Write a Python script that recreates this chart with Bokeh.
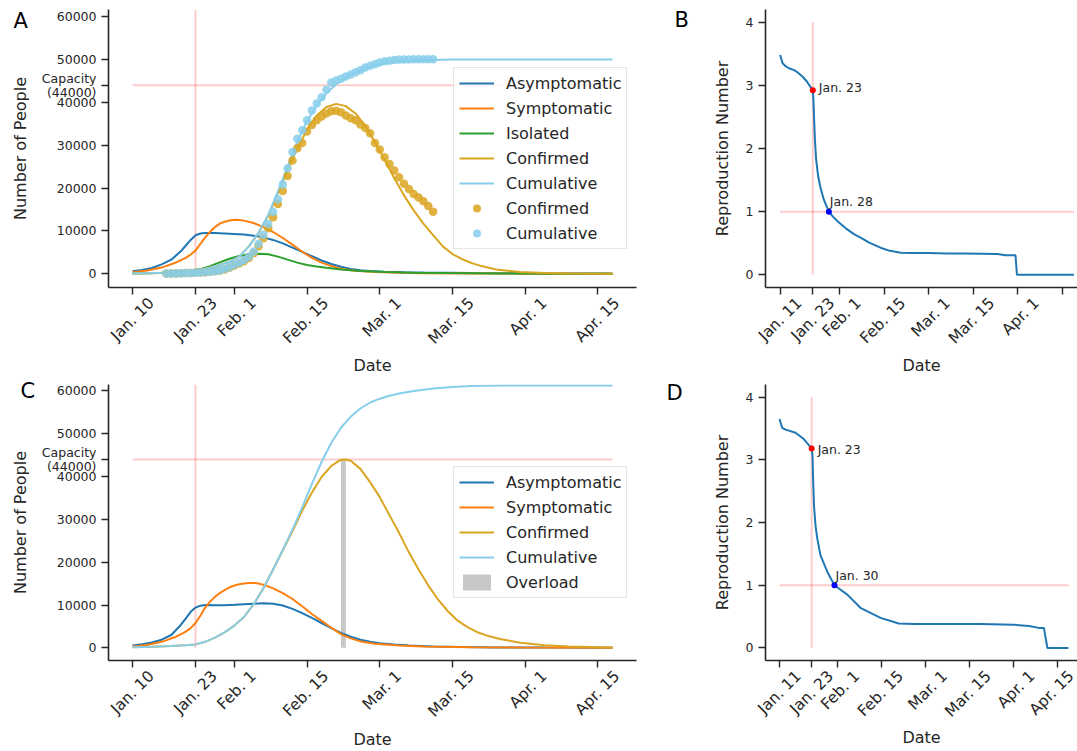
import math
from bokeh.plotting import figure
from bokeh.models import (FixedTicker, Legend, LegendItem, Label, LinearAxis, Range1d)
from bokeh.layouts import column, row
from bokeh.embed import file_html
from bokeh.resources import INLINE

# ------------------------------------------------------------------ data
# panels A and C: day index, 0 = Jan. 10
a_xticks = [0, 13, 21, 36, 51, 66, 81, 96]
a_xlabels = ["Jan. 10", "Jan. 23", "Feb. 1", "Feb. 15", "Mar. 1", "Mar. 15", "Apr. 1", "Apr. 15"]
# panels B and D: day index, 0 = Jan. 11
r_xticks = [0, 11, 20, 35, 50, 65, 80, 95]
r_xlabels = ["Jan. 11", "Jan. 23", "Feb. 1", "Feb. 15", "Mar. 1", "Mar. 15", "Apr. 1", "Apr. 15"]
people_yticks = [0, 10000, 20000, 30000, 40000, 44000, 50000, 60000]
r_yticks = [0, 1, 2, 3, 4]
capacity = 44000
lockdown_a = 13      # Jan. 23 (panels A, C)
lockdown_r = 11      # Jan. 23 (panels B, D)
model_end = 99

# ---- panel A (model fit)
a_asym_day = [0, 2, 4, 6, 8, 10, 11, 12, 13, 14, 15, 17, 19, 21, 23, 25, 27, 29, 31, 33, 35, 37,
              39, 41, 43, 45, 47, 49, 52, 56, 60, 65, 70, 80, 90, 99]
a_asym = [620, 900, 1350, 2200, 3300, 5300, 6600, 7900, 9000, 9400, 9520, 9500, 9400, 9280, 9150,
          8900, 8500, 7900, 7100, 6100, 5100, 4100, 3100, 2300, 1650, 1150, 850, 650, 480, 370,
          300, 230, 180, 110, 70, 50]
a_symp_day = [0, 3, 6, 9, 11, 12, 13, 14, 15, 16, 17, 18, 19, 20, 21, 22, 23, 25, 27, 29, 31, 33,
              35, 37, 39, 41, 43, 46, 50, 55, 60, 70, 80, 99]
a_symp = [380, 750, 1450, 2650, 3700, 4500, 5400, 7000, 8500, 9800, 10900, 11700, 12150, 12450,
          12580, 12550, 12400, 11850, 10900, 9750, 8350, 6800, 5150, 3700, 2600, 1800, 1200, 700,
          420, 250, 150, 70, 40, 20]
a_isol_day = [0, 4, 8, 10, 12, 14, 16, 18, 20, 22, 24, 26, 28, 30, 32, 34, 36, 38, 40, 43, 47, 52,
              58, 65, 75, 85, 99]
a_isol = [50, 120, 300, 450, 700, 1100, 1800, 2650, 3500, 4150, 4550, 4700, 4550, 4000, 3300,
          2600, 2050, 1700, 1400, 1000, 650, 420, 270, 160, 80, 40, 20]
a_conf_day = [0, 3, 6, 9, 12, 14, 16, 18, 20, 22, 24, 26, 28, 30, 32, 34, 36, 38, 40, 42, 44, 46,
              48, 50, 52, 54, 56, 58, 60, 62, 64, 66, 68, 70, 72, 75, 80, 85, 90, 99]
a_conf = [100, 150, 250, 400, 650, 900, 1500, 2050, 2800, 4000, 6400, 9500, 13600, 18800, 24200,
          29300, 33600, 36900, 38900, 39630, 39100, 37400, 34500, 30700, 26600, 22300, 18300,
          14800, 11700, 9000, 6400, 4600, 3400, 2500, 1800, 1000, 400, 160, 70, 20]
a_cum_day = [0, 3, 6, 9, 12, 14, 16, 18, 20, 22, 24, 26, 28, 30, 32, 34, 36, 38, 40, 42, 44, 46,
             48, 50, 52, 55, 58, 62, 66, 72, 80, 99]
a_cum = [100, 150, 250, 400, 650, 900, 1500, 2050, 2800, 4000, 6400, 9600, 13800, 19200, 25000,
         30800, 35600, 39300, 42100, 44200, 45800, 47000, 47900, 48600, 49100, 49500, 49750,
         49880, 49950, 49990, 50000, 50000]
# observed data (one point per day, Jan. 17 .. Mar. 12)
a_obs_day = list(range(7, 63))
a_obs_conf = [55, 75, 95, 120, 160, 200, 250, 300, 380, 470, 580, 750, 1000, 1400, 1950, 2400,
              2950, 3700, 4800, 6400, 8300, 10600, 13200, 16300, 19300, 22800, 26400, 29300,
              30500, 33200, 34700, 35800, 36700, 37400, 37900, 38000, 37700, 36900, 36300, 35800,
              34800, 34000, 32800, 30500, 29000, 27200, 25600, 24100, 22500, 21000, 19800, 18600,
              17800, 16900, 15800, 14500]
a_obs_cum = [60, 80, 100, 130, 170, 210, 260, 320, 400, 500, 620, 800, 1100, 1500, 2100, 2600,
             3200, 4000, 5200, 7000, 9100, 11600, 14400, 17400, 20800, 24600, 28400, 31500, 33500,
             35800, 38100, 39700, 41200, 42900, 44600, 45100, 45500, 46000, 46500, 47000, 47500,
             48100, 48500, 48900, 49300, 49550, 49700, 49850, 49950, 49980, 50000, 50010, 50020,
             50030, 50040, 50050]

# ---- panel C (scenario)
c_asym_day = [0, 2, 4, 6, 8, 10, 11, 12, 13, 14, 15, 17, 19, 21, 23, 25, 27, 29, 31, 33, 35, 37,
              39, 41, 43, 45, 47, 49, 51, 54, 57, 62, 68, 75, 85, 99]
c_asym = [550, 850, 1250, 1900, 3000, 5400, 6900, 8400, 9400, 9850, 10000, 9950, 9950, 10050,
          10200, 10300, 10400, 10300, 9900, 9100, 8100, 7000, 5800, 4600, 3500, 2600, 1900, 1400,
          1050, 750, 550, 330, 180, 100, 50, 20]
c_symp_day = [0, 3, 6, 9, 11, 12, 13, 14, 15, 16, 17, 18, 19, 20, 21, 22, 23, 24, 25, 26, 27, 29,
              31, 33, 35, 37, 39, 41, 43, 45, 47, 50, 55, 60, 70, 80, 99]
c_symp = [300, 650, 1400, 2600, 3800, 4600, 5800, 7500, 9400, 10800, 11900, 12800, 13500, 14100,
          14550, 14850, 15050, 15130, 15130, 15000, 14750, 13900, 12800, 11400, 9700, 7900, 6300,
          4700, 3200, 2200, 1500, 950, 550, 320, 120, 50, 20]
c_conf_day = [0, 4, 8, 11, 13, 15, 17, 19, 21, 23, 25, 27, 29, 31, 33, 35, 37, 39, 41, 43, 44, 45,
              47, 49, 51, 53, 55, 57, 59, 61, 63, 65, 67, 69, 71, 73, 76, 80, 85, 90, 99]
c_conf = [150, 250, 400, 600, 800, 1400, 2400, 3600, 5200, 7200, 10200, 13900, 18300, 22800,
          27300, 32000, 36300, 39900, 42500, 43950, 44000, 43700, 41800, 38700, 35200, 31000,
          26800, 22300, 18300, 14600, 11300, 8600, 6400, 4900, 3700, 2900, 2000, 1200, 600, 300,
          100]
c_cum_day = [0, 4, 8, 11, 13, 15, 17, 19, 21, 23, 25, 27, 29, 31, 33, 35, 37, 39, 41, 43, 45, 47,
             49, 51, 53, 55, 58, 62, 66, 70, 76, 85, 99]
c_cum = [150, 250, 400, 600, 800, 1400, 2400, 3600, 5200, 7200, 10200, 13900, 18300, 22900, 27600,
         32800, 38300, 43400, 47900, 51400, 54000, 55900, 57300, 58200, 58900, 59400, 60000,
         60600, 60950, 61150, 61270, 61300, 61300]
c_overload_start = 43
c_overload_end = 44

# ---- panels B and D: reproduction number
b_day = [0, 0.8, 1.9, 3, 4.7, 6, 7.5, 9, 9.7, 11, 11.2, 11.4, 11.7, 12.1, 12.8, 13.6, 14.7, 16.4,
         18, 19.8, 22, 25, 27.1, 30, 33.8, 37, 40.6, 45, 50, 56.3, 62, 68, 73.2, 76, 78.8, 79.3,
         79.8, 99]
b_r = [3.48, 3.35, 3.30, 3.27, 3.24, 3.20, 3.14, 3.06, 3.01, 2.92, 2.77, 2.51, 2.14, 1.83, 1.56,
       1.38, 1.19, 1.00, 0.91, 0.83, 0.74, 0.64, 0.59, 0.51, 0.43, 0.38, 0.35, 0.345, 0.345,
       0.34, 0.34, 0.335, 0.33, 0.31, 0.31, 0.31, 0.0, 0.0]
b_marks_day = [11, 16.4]
b_marks_r = [2.92, 1.0]
b_marks_text = ["Jan. 23", "Jan. 28"]

d_day = [0, 0.9, 2.1, 5.5, 8.3, 11, 11.3, 11.5, 11.8, 12.3, 12.9, 14, 16.3, 18.8, 23.2, 27.7,
         34.6, 40.8, 46, 57.4, 68.8, 80.2, 85.4, 88.8, 90.5, 91.7, 98.9]
d_r = [3.65, 3.51, 3.48, 3.43, 3.33, 3.18, 3.06, 2.69, 2.27, 1.96, 1.75, 1.48, 1.22, 1.0, 0.85,
       0.64, 0.48, 0.39, 0.38, 0.38, 0.38, 0.37, 0.35, 0.32, 0.32, 0.0, 0.0]
d_marks_day = [11, 18.8]
d_marks_r = [3.18, 1.0]
d_marks_text = ["Jan. 23", "Jan. 30"]

# ------------------------------------------------------------------ style
FONT = "DejaVu Sans"
INK = "#262626"
C_ASYM = "#1f77b4"
C_SYMP = "#ff7f0e"
C_ISOL = "#2ca02c"
C_CONF = "goldenrod"
C_CUM = "skyblue"
XTICK_SIZE = "15.5px"
YTICK_SIZE = "12.5px"


def base_fig(width, height, xr, yr, left, right, top, bottom):
    p = figure(width=width, height=height, x_range=Range1d(*xr), y_range=Range1d(*yr),
               output_backend="svg", toolbar_location=None,
               min_border_left=left, min_border_right=right,
               min_border_top=top, min_border_bottom=bottom)
    p.outline_line_color = None
    p.xgrid.visible = False
    p.ygrid.visible = False
    p.background_fill_color = "white"
    p.border_fill_color = "white"
    for ax in (p.xaxis[0], p.yaxis[0]):
        ax.axis_line_color = INK
        ax.axis_line_width = 1.6
        ax.major_tick_line_color = INK
        ax.major_tick_line_width = 1.4
        ax.major_tick_out = 7
        ax.major_tick_in = 0
        ax.minor_tick_line_color = None
        ax.major_label_text_font = FONT
        ax.major_label_text_font_size = YTICK_SIZE
        ax.major_label_text_color = INK
        ax.major_label_standoff = 5
        ax.axis_label_text_font = FONT
        ax.axis_label_text_font_size = "16px"
        ax.axis_label_text_font_style = "normal"
        ax.axis_label_text_color = INK
    return p


def x_ticks(p, ticks, labels, frame_width, date_standoff):
    # tick marks on the real axis
    ax = p.xaxis[0]
    ax.ticker = FixedTicker(ticks=ticks)
    ax.major_label_overrides = {t: "" for t in ticks}
    ax.major_label_text_font_size = "0px"
    ax.major_label_standoff = 0
    # rotated labels, centred under their tick as in the original
    px_per_day = frame_width / (p.x_range.end - p.x_range.start)
    shift = 19.0 / px_per_day
    lab_ticks = [t + shift for t in ticks]
    lab = LinearAxis(ticker=FixedTicker(ticks=lab_ticks),
                     major_label_overrides=dict(zip(lab_ticks, labels)),
                     axis_line_color=None, major_tick_line_color=None,
                     minor_tick_line_color=None, major_tick_out=0, major_tick_in=0,
                     major_label_orientation=math.pi / 4, major_label_standoff=6,
                     major_label_text_font=FONT, major_label_text_font_size=XTICK_SIZE,
                     major_label_text_color=INK,
                     axis_label="Date", axis_label_standoff=date_standoff,
                     axis_label_text_font=FONT, axis_label_text_font_size="16px",
                     axis_label_text_font_style="normal", axis_label_text_color=INK)
    p.add_layout(lab, "below")


def panel_letter(p, letter, dx, dy, side):
    p.add_layout(Label(x=p.x_range.start, y=p.y_range.end, x_offset=dx, y_offset=-dy,
                       text=letter, text_font=FONT, text_font_size="21px",
                       text_color="black", text_baseline="alphabetic", text_align="left"),
                 side)


def add_legend(p, items, loc):
    lg = Legend(items=items, location=loc, orientation="vertical")
    lg.label_text_font = FONT
    lg.label_text_font_size = "16px"
    lg.label_text_color = INK
    lg.glyph_width = 35
    lg.glyph_height = 20
    lg.label_height = 20
    lg.label_standoff = 12
    lg.spacing = 5
    lg.padding = 5
    lg.margin = 0
    lg.border_line_color = "#cccccc"
    lg.border_line_width = 1
    lg.background_fill_alpha = 0.8
    p.add_layout(lg)


def people_axis(p, standoff):
    p.yaxis.ticker = FixedTicker(ticks=people_yticks)
    p.yaxis.major_label_overrides = {capacity: "Capacity\n(%d)" % capacity}
    p.yaxis.major_label_text_line_height = 0.95
    p.yaxis.axis_label = "Number of People"
    p.yaxis.axis_label_standoff = standoff


def r_axis(p):
    p.yaxis.ticker = FixedTicker(ticks=r_yticks)
    p.yaxis.axis_label = "Reproduction Number"
    p.yaxis.axis_label_standoff = 11


PINK = dict(line_color="red", line_alpha=0.2, line_width=2)
AW, BW = 660, 417            # widths of left / right columns
AL, AR, BL = 108, 24, 105    # borders
FW_A, FW_B = AW - AL - AR, BW - BL
H1, H2 = 377, 374            # row heights

# ------------------------------------------------------------------ panel A
a_top = 61640
pa = base_fig(AW, H1, (-4.95, 103.95), (-3195, a_top), AL, AR, 9, 90)
people_axis(pa, 9)
x_ticks(pa, a_xticks, a_xlabels, FW_A, -1)
pa.segment(x0=[lockdown_a], y0=[0], x1=[lockdown_a], y1=[a_top], **PINK)
pa.segment(x0=[0], y0=[capacity], x1=[model_end], y1=[capacity], **PINK)
ra1 = pa.line(a_asym_day, a_asym, line_color=C_ASYM, line_width=2)
ra2 = pa.line(a_symp_day, a_symp, line_color=C_SYMP, line_width=2)
ra3 = pa.line(a_isol_day, a_isol, line_color=C_ISOL, line_width=2)
ra4 = pa.line(a_conf_day, a_conf, line_color=C_CONF, line_width=2)
ra5 = pa.line(a_cum_day, a_cum, line_color=C_CUM, line_width=2)
ra6 = pa.scatter(a_obs_day, a_obs_conf, size=8.5, fill_color=C_CONF, fill_alpha=0.85,
                 line_color=None)
ra7 = pa.scatter(a_obs_day, a_obs_cum, size=8.5, fill_color=C_CUM, fill_alpha=0.85,
                 line_color=None)
add_legend(pa, [LegendItem(label="Asymptomatic", renderers=[ra1]),
                LegendItem(label="Symptomatic", renderers=[ra2]),
                LegendItem(label="Isolated", renderers=[ra3]),
                LegendItem(label="Confirmed", renderers=[ra4]),
                LegendItem(label="Cumulative", renderers=[ra5]),
                LegendItem(label="Confirmed", renderers=[ra6]),
                LegendItem(label="Cumulative", renderers=[ra7])], (345, 38))
panel_letter(pa, "A", -95, 11.8, "right")

# ------------------------------------------------------------------ panel B
pb = base_fig(BW, H1, (-4.95, 100.2), (-0.2, 4.2), BL, 0, 9, 90)
r_axis(pb)
x_ticks(pb, r_xticks, r_xlabels, FW_B, -1)
pb.segment(x0=[lockdown_r], y0=[0], x1=[lockdown_r], y1=[4], **PINK)
pb.segment(x0=[0], y0=[1], x1=[model_end], y1=[1], **PINK)
pb.line(b_day, b_r, line_color=C_ASYM, line_width=2)
pb.scatter(b_marks_day[:1], b_marks_r[:1], size=6, fill_color="red", line_color=None)
pb.scatter(b_marks_day[1:], b_marks_r[1:], size=6, fill_color="blue", line_color=None)
pb.add_layout(Label(x=b_marks_day[0], y=b_marks_r[0], text=b_marks_text[0], x_offset=6,
                    y_offset=3, text_font=FONT, text_font_size="12.5px", text_color=INK,
                    text_baseline="middle"))
pb.add_layout(Label(x=b_marks_day[1], y=b_marks_r[1], text=b_marks_text[1], x_offset=1,
                    y_offset=10, text_font=FONT, text_font_size="12.5px", text_color=INK,
                    text_baseline="middle"))
panel_letter(pb, "B", -91, 10.8, "left")

# ------------------------------------------------------------------ panel C
c_top = 61510
pc = base_fig(AW, H2, (-4.95, 103.95), (-2960, c_top), AL, AR, 6, 91)
people_axis(pc, 9)
x_ticks(pc, a_xticks, a_xlabels, FW_A, 0)
pc.segment(x0=[lockdown_a], y0=[0], x1=[lockdown_a], y1=[c_top], **PINK)
pc.segment(x0=[0], y0=[capacity], x1=[model_end], y1=[capacity], **PINK)
rc5 = pc.quad(left=[c_overload_start], right=[c_overload_end], bottom=[0], top=[capacity],
              fill_color="#c8c8c8", line_color=None)
rc1 = pc.line(c_asym_day, c_asym, line_color=C_ASYM, line_width=2)
rc2 = pc.line(c_symp_day, c_symp, line_color=C_SYMP, line_width=2)
rc3 = pc.line(c_conf_day, c_conf, line_color=C_CONF, line_width=2)
rc4 = pc.line(c_cum_day, c_cum, line_color=C_CUM, line_width=2)
add_legend(pc, [LegendItem(label="Asymptomatic", renderers=[rc1]),
                LegendItem(label="Symptomatic", renderers=[rc2]),
                LegendItem(label="Confirmed", renderers=[rc3]),
                LegendItem(label="Cumulative", renderers=[rc4]),
                LegendItem(label="Overload", renderers=[rc5])], (345, 62))
panel_letter(pc, "C", -88, 6.8, "right")

# ------------------------------------------------------------------ panel D
pd_ = base_fig(BW, H2, (-4.8, 102.0), (-0.2, 4.2), BL, 0, 7, 87)
r_axis(pd_)
x_ticks(pd_, r_xticks, r_xlabels, FW_B, -2)
pd_.segment(x0=[lockdown_r], y0=[0], x1=[lockdown_r], y1=[4], **PINK)
pd_.segment(x0=[0], y0=[1], x1=[model_end], y1=[1], **PINK)
pd_.line(d_day, d_r, line_color=C_ASYM, line_width=2)
pd_.scatter(d_marks_day[:1], d_marks_r[:1], size=6, fill_color="red", line_color=None)
pd_.scatter(d_marks_day[1:], d_marks_r[1:], size=6, fill_color="blue", line_color=None)
pd_.add_layout(Label(x=d_marks_day[0], y=d_marks_r[0], text=d_marks_text[0], x_offset=6,
                     y_offset=-1, text_font=FONT, text_font_size="12.5px", text_color=INK,
                     text_baseline="middle"))
pd_.add_layout(Label(x=d_marks_day[1], y=d_marks_r[1], text=d_marks_text[1], x_offset=1,
                     y_offset=10, text_font=FONT, text_font_size="12.5px", text_color=INK,
                     text_baseline="middle"))
panel_letter(pd_, "D", -99, 8.8, "left")

layout = column(row(pa, pb), row(pc, pd_))
open("out.html", "w").write(file_html(layout, INLINE))
